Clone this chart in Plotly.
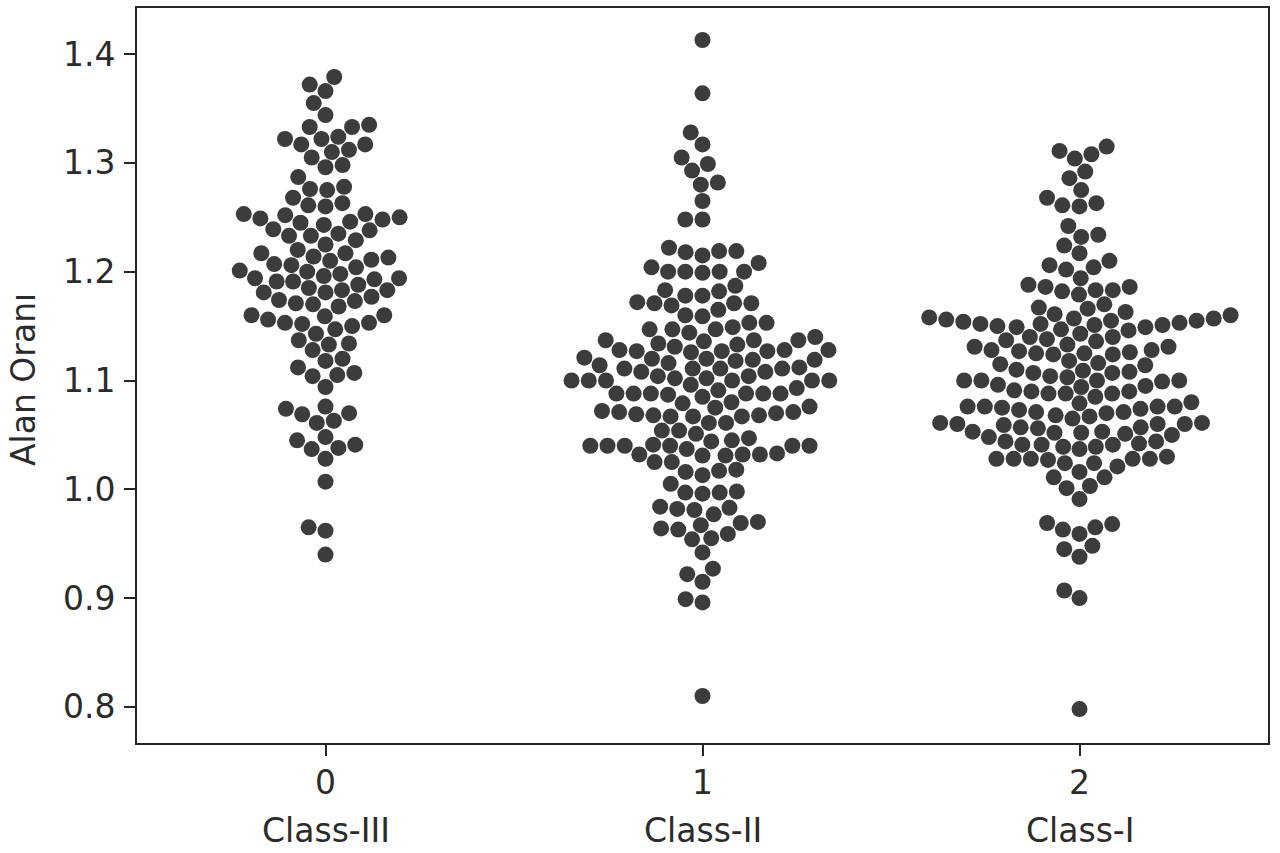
import numpy as np
import plotly.graph_objects as go

# ---------------- data ----------------
categories = [0, 1, 2]
tick_labels = ["0", "1", "2"]
class_names = ["Class-III", "Class-II", "Class-I"]
y_label = "Alan Oranı"

class_iii = [
    1.379, 1.372, 1.366, 1.355, 1.344, 1.333, 1.333, 1.335, 1.322, 1.322,
    1.317, 1.317, 1.324, 1.310, 1.305, 1.312, 1.296, 1.298, 1.287, 1.278,
    1.275, 1.276, 1.268, 1.261, 1.263, 1.260, 1.253, 1.248, 1.245, 1.250,
    1.253, 1.252, 1.243, 1.246, 1.249, 1.235, 1.229, 1.233, 1.239, 1.233,
    1.238, 1.225, 1.217, 1.214, 1.217, 1.220, 1.213, 1.211, 1.210, 1.207,
    1.204, 1.206, 1.201, 1.198, 1.194, 1.191, 1.196, 1.188, 1.191, 1.193,
    1.194, 1.200, 1.183, 1.181, 1.181, 1.183, 1.185, 1.173, 1.170, 1.174,
    1.168, 1.171, 1.177, 1.160, 1.153, 1.152, 1.156, 1.160, 1.147, 1.150,
    1.153, 1.159, 1.143, 1.137, 1.128, 1.133, 1.134, 1.118, 1.120, 1.112,
    1.104, 1.105, 1.107, 1.094, 1.074, 1.069, 1.061, 1.063, 1.070, 1.076,
    1.045, 1.037, 1.048, 1.038, 1.041, 1.028, 1.007, 0.965, 0.962, 0.940,
]

class_ii = [
    1.413, 1.364, 1.328, 1.317, 1.305, 1.299, 1.293, 1.280, 1.282, 1.265,
    1.248, 1.248, 1.222, 1.218, 1.215, 1.219, 1.219, 1.208, 1.200, 1.200,
    1.199, 1.200, 1.200, 1.204, 1.183, 1.182, 1.187, 1.178, 1.178, 1.171,
    1.169, 1.172, 1.171, 1.171, 1.165, 1.160, 1.159, 1.153, 1.149, 1.153,
    1.147, 1.147, 1.147, 1.144, 1.140, 1.137, 1.137, 1.136, 1.133, 1.131,
    1.134, 1.137, 1.128, 1.128, 1.127, 1.127, 1.126, 1.127, 1.128, 1.121,
    1.120, 1.118, 1.116, 1.119, 1.119, 1.120, 1.114, 1.112, 1.111, 1.108,
    1.111, 1.108, 1.111, 1.111, 1.104, 1.102, 1.100, 1.100, 1.104, 1.102,
    1.100, 1.100, 1.096, 1.100, 1.100, 1.088, 1.088, 1.088, 1.087, 1.085,
    1.091, 1.088, 1.088, 1.088, 1.093, 1.079, 1.080, 1.076, 1.071, 1.071,
    1.067, 1.067, 1.069, 1.068, 1.068, 1.067, 1.070, 1.072, 1.075, 1.061,
    1.061, 1.054, 1.054, 1.051, 1.047, 1.044, 1.040, 1.040, 1.037, 1.032,
    1.032, 1.031, 1.041, 1.040, 1.045, 1.033, 1.040, 1.040, 1.040, 1.031,
    1.032, 1.025, 1.025, 1.018, 1.017, 1.013, 1.016, 1.005, 0.998, 0.997,
    0.996, 0.997, 0.984, 0.982, 0.981, 0.977, 0.983, 0.964, 0.963, 0.969,
    0.967, 0.970, 0.954, 0.955, 0.959, 0.942, 0.927, 0.922, 0.915, 0.899,
    0.896, 0.810,
]

class_i = [
    1.315, 1.308, 1.304, 1.311, 1.292, 1.286, 1.268, 1.261, 1.260, 1.263,
    1.275, 1.242, 1.234, 1.232, 1.224, 1.217, 1.210, 1.204, 1.202, 1.206,
    1.194, 1.188, 1.183, 1.182, 1.179, 1.183, 1.186, 1.186, 1.167, 1.161,
    1.166, 1.170, 1.163, 1.157, 1.156, 1.152, 1.151, 1.149, 1.160, 1.155,
    1.153, 1.146, 1.149, 1.154, 1.155, 1.147, 1.150, 1.151, 1.152, 1.157,
    1.158, 1.143, 1.140, 1.137, 1.131, 1.136, 1.138, 1.140, 1.128, 1.128,
    1.125, 1.124, 1.126, 1.124, 1.125, 1.127, 1.131, 1.133, 1.114, 1.115,
    1.118, 1.116, 1.109, 1.107, 1.103, 1.104, 1.108, 1.107, 1.110, 1.100,
    1.096, 1.094, 1.100, 1.099, 1.100, 1.100, 1.088, 1.091, 1.085, 1.088,
    1.090, 1.088, 1.090, 1.095, 1.080, 1.076, 1.074, 1.073, 1.071, 1.079,
    1.076, 1.076, 1.070, 1.071, 1.075, 1.076, 1.061, 1.060, 1.057, 1.053,
    1.052, 1.059, 1.068, 1.053, 1.065, 1.060, 1.067, 1.057, 1.050, 1.051,
    1.048, 1.052, 1.056, 1.060, 1.061, 1.042, 1.037, 1.044, 1.041, 1.039,
    1.044, 1.041, 1.039, 1.041, 1.028, 1.028, 1.028, 1.027, 1.024, 1.030,
    1.024, 1.028, 1.028, 1.021, 1.016, 1.011, 1.011, 1.001, 1.003, 0.991,
    0.968, 0.963, 0.959, 0.965, 0.969, 0.945, 0.948, 0.938, 0.907, 0.900,
    0.798,
]

series = [class_iii, class_ii, class_i]

# ---------------- layout geometry ----------------
W, H = 1280, 853
M_L, M_R, M_T, M_B = 137, 12, 8, 110
X_RANGE = [-0.5, 2.5]
Y_RANGE = [0.7668, 1.4424]
plot_w = W - M_L - M_R
plot_h = H - M_T - M_B
px_per_x = plot_w / (X_RANGE[1] - X_RANGE[0])
px_per_y = plot_h / (Y_RANGE[1] - Y_RANGE[0])
MARKER_D = 16
R = 8.2  # collision radius in px


def swarm_offsets(values, r):
    """Beeswarm layout (same procedure as seaborn) in pixel space."""
    y = np.asarray(values, dtype=float) * px_per_y
    order = np.argsort(y, kind="mergesort")
    placed = []
    xs = np.zeros(len(y))
    for idx in order:
        yi = y[idx]
        neighbors = []
        for xj, yj in reversed(placed):
            if yi - yj < 2 * r:
                neighbors.append((xj, yj))
            else:
                break
        cands = [0.0]
        left_first = True
        for xj, yj in neighbors:
            dy = yi - yj
            dx = np.sqrt(max((2 * r) ** 2 - dy ** 2, 0.0)) * 1.05
            pair = [xj - dx, xj + dx] if left_first else [xj + dx, xj - dx]
            cands.extend(pair)
            left_first = not left_first
        cands.sort(key=abs)
        chosen = cands[0]
        for c in cands:
            if all((xj - c) ** 2 + (yj - yi) ** 2 >= (2 * r) ** 2 - 1e-9
                   for xj, yj in neighbors):
                chosen = c
                break
        placed.append((chosen, yi))
        xs[idx] = chosen
    return xs / px_per_x


fig = go.Figure()
for cat, vals in zip(categories, series):
    offs = swarm_offsets(vals, R)
    fig.add_trace(go.Scatter(
        x=cat + offs, y=vals, mode="markers",
        marker=dict(size=MARKER_D, color="#3c3c3c", line=dict(width=0)),
        showlegend=False, hoverinfo="y",
    ))

FONT = "DejaVu Sans, Arial, sans-serif"
TXT = "#2b2b2b"
LINE = "#262626"

fig.update_layout(
    width=W, height=H,
    margin=dict(l=M_L, r=M_R, t=M_T, b=M_B, autoexpand=False),
    paper_bgcolor="white", plot_bgcolor="white",
    font=dict(family=FONT, size=33, color=TXT),
    showlegend=False,
)
fig.update_xaxes(
    range=X_RANGE, tickmode="array", tickvals=categories, ticktext=tick_labels,
    showgrid=False, zeroline=False,
    showline=True, mirror=True, linecolor=LINE, linewidth=1.6,
    ticks="outside", ticklen=11, tickwidth=1.6, tickcolor=LINE,
    ticklabelstandoff=-1,
    tickfont=dict(size=33, color=TXT, family=FONT),
)
fig.update_yaxes(
    range=Y_RANGE, tickmode="linear", tick0=0.8, dtick=0.1, tickformat=".1f",
    showgrid=False, zeroline=False,
    showline=True, mirror=True, linecolor=LINE, linewidth=1.6,
    ticks="outside", ticklen=11, tickwidth=1.6, tickcolor=LINE,
    ticklabelstandoff=2,
    tickfont=dict(size=33, color=TXT, family=FONT),
)

for cat, name in zip(categories, class_names):
    fig.add_annotation(
        x=cat, xref="x", y=-87 / plot_h, yref="paper",
        text=name, showarrow=False,
        font=dict(size=33, color=TXT, family=FONT),
        xanchor="center", yanchor="middle",
    )

fig.add_annotation(
    x=(23 - M_L) / plot_w, xref="paper", y=(H - M_B - 380) / plot_h, yref="paper",
    text=y_label, textangle=-90, showarrow=False,
    font=dict(size=33, color=TXT, family=FONT),
    xanchor="center", yanchor="middle",
)

# remove the default 8 px page margin so the figure fills the window exactly
fig.write_html(
    "out.html",
    config={"displayModeBar": False},
    post_script="document.body.style.margin='0';document.body.style.padding='0';",
)
